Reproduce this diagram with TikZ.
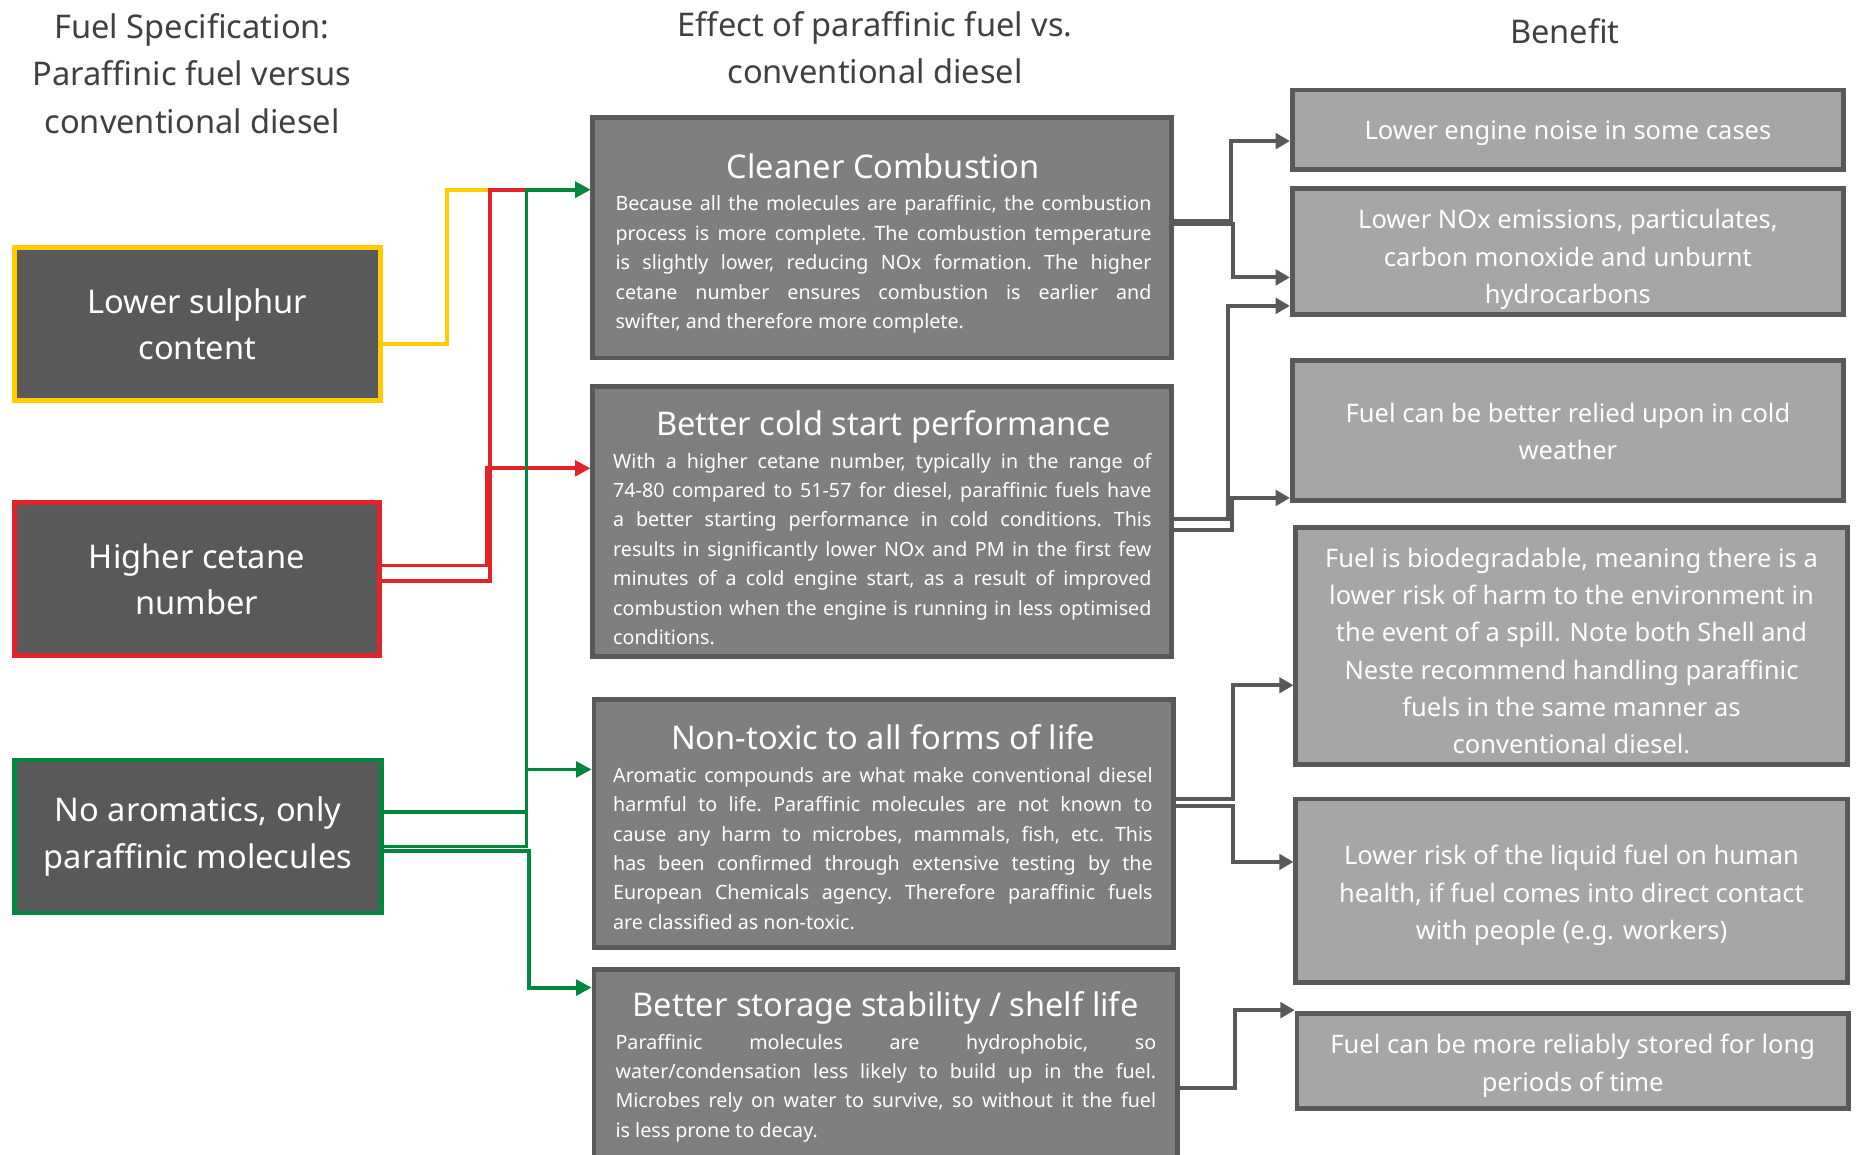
\documentclass[tikz,border=0pt]{standalone}
\usepackage{fontspec}
\setmainfont{Noto Sans}
\usetikzlibrary{arrows.meta}
\definecolor{ylw}{HTML}{FFCC00}
\definecolor{rd}{HTML}{E3232A}
\definecolor{grn}{HTML}{00873F}
\definecolor{dkfill}{HTML}{595959}
\definecolor{midfill}{HTML}{7F7F7F}
\definecolor{ltfill}{HTML}{A6A6A6}
\definecolor{bord}{HTML}{595959}
\definecolor{ttl}{HTML}{404040}
\begin{document}
\begin{tikzpicture}[x=1pt,y=-1pt,
  leftbox/.style={draw, line width=4pt, fill=dkfill, text=white, align=center, inner sep=0pt,
     font=\fontsize{27.5}{39}\selectfont},
  midbox/.style={draw=bord, line width=4pt, fill=midfill, inner sep=0pt},
  rightbox/.style={draw=bord, line width=4pt, fill=ltfill, text=white, align=center, inner sep=0pt,
     font=\fontsize{21.5}{31.5}\selectfont},
  heading/.style={text=white, inner sep=0pt, font=\fontsize{27.5}{33}\selectfont,
     text height=20.9pt, text depth=6.6pt},
  bodytext/.style={text=white, inner sep=0pt, align=justify, anchor=north west,
     font=\fontsize{16.6}{24.8}\selectfont,
     execute at begin node={\frenchspacing\tolerance=10000\hyphenpenalty=10000\emergencystretch=0pt}},
  titletext/.style={text=ttl, align=center, inner sep=0pt, font=\fontsize{27.5}{40}\selectfont},
  conn/.style={line width=3.2pt, -{Triangle[length=13pt,width=13pt]}},
  gconn/.style={draw=bord, line width=3.4pt, -{Triangle[length=12pt,width=13pt]}}
]
\useasboundingbox (0,0) rectangle (1568,974);
\fill[white] (0,0) rectangle (1568,974);

% titles
\node[titletext] (t1) at (162,62) {Fuel Specification:\\Paraffinic fuel versus\\conventional diesel};
\node[titletext] (t2) at (738,40) {Effect of paraffinic fuel vs.\\conventional diesel};
\node[titletext] (t3) at (1320,26) {Benefit};

% left boxes
\node[leftbox, draw=ylw, minimum width=309pt, minimum height=129pt] (L1) at (166.5,273.5) {Lower sulphur\\content};
\node[leftbox, draw=rd, minimum width=308pt, minimum height=129pt] (L2) at (166,488.5) {Higher cetane\\number};
\node[leftbox, draw=grn, minimum width=310pt, minimum height=129pt] (L3) at (167,705.5) {No aromatics, only\\paraffinic molecules};

% middle boxes
\node[midbox, minimum width=488pt, minimum height=203pt] (m1) at (744,200.5) {};
\node[midbox, minimum width=488pt, minimum height=228pt] (m2) at (744,440) {};
\node[midbox, minimum width=489pt, minimum height=209pt] (m3) at (745.5,694.5) {};
\node[midbox, minimum width=492pt, minimum height=170pt] (m4) at (747,903) {};

\node[heading] (h1) at (745,143) {Cleaner Combustion};
\node[heading] (h2) at (745,360) {Better cold start performance};
\node[heading] (h3) at (745,625) {Non-toxic to all forms of life};
\node[heading] (h4) at (747,850) {Better storage stability / shelf life};

\node[bodytext, text width=452pt] (b1) at (519,165) {Because all the molecules are paraffinic, the combustion\linebreak
process is more complete. The combustion temperature\linebreak
is slightly lower, reducing NOx formation. The higher\linebreak
cetane number ensures combustion is earlier and\linebreak
swifter, and therefore more complete.};
\node[bodytext, text width=454pt] (b2) at (517,382) {With a higher cetane number, typically in the range of\linebreak
74-80 compared to 51-57 for diesel, paraffinic fuels have\linebreak
a better starting performance in cold conditions. This\linebreak
results in significantly lower NOx and PM in the first few\linebreak
minutes of a cold engine start, as a result of improved\linebreak
combustion when the engine is running in less optimised\linebreak
conditions.};
\node[bodytext, text width=455pt] (b3) at (517,647) {Aromatic compounds are what make conventional diesel\linebreak
harmful to life. Paraffinic molecules are not known to\linebreak
cause any harm to microbes, mammals, fish, etc. This\linebreak
has been confirmed through extensive testing by the\linebreak
European Chemicals agency. Therefore paraffinic fuels\linebreak
are classified as non-toxic.};
\node[bodytext, text width=456pt] (b4) at (519,872) {Paraffinic molecules are hydrophobic, so\linebreak
water/condensation less likely to build up in the fuel.\linebreak
Microbes rely on water to survive, so without it the fuel\linebreak
is less prone to decay.};

% right boxes
\node[rightbox, minimum width=465pt, minimum height=67pt] (r1) at (1322.5,109.5) {\rule{0pt}{22.3pt}Lower engine noise in some cases};
\node[rightbox, minimum width=465pt, minimum height=106pt] (r2) at (1322.5,212) {\rule{0pt}{30.3pt}Lower NOx emissions, particulates,\\carbon monoxide and unburnt\\hydrocarbons};
\node[rightbox, minimum width=465pt, minimum height=118pt] (r3) at (1322.5,363) {\rule{0pt}{18.3pt}Fuel can be better relied upon in cold\\weather};
\node[rightbox, minimum width=465pt, minimum height=200pt] (r4) at (1325.5,545) {\rule{0pt}{24.3pt}Fuel is biodegradable, meaning there is a\\lower risk of harm to the environment in\\the event of a spill. Note both Shell and\\Neste recommend handling paraffinic\\fuels in the same manner as\\conventional diesel.};
\node[rightbox, minimum width=465pt, minimum height=155pt] (r5) at (1325.5,751.5) {\rule{0pt}{24.3pt}Lower risk of the liquid fuel on human\\health, if fuel comes into direct contact\\with people (e.g. workers)};
\node[rightbox, minimum width=465pt, minimum height=80pt] (r6) at (1326.5,895) {\rule{0pt}{24.3pt}Fuel can be more reliably stored for long\\periods of time};

% coloured connectors
\draw[conn, ylw] ([yshift=-16.5pt]L1.east) -- ++(54,0) |- ([yshift=40.5pt]m1.west);
\draw[conn, rd] ([yshift=-1.5pt]L2.east) -- ++(91,0) |- ([yshift=40.5pt]m1.west);
\draw[conn, rd] ([yshift=11.5pt]L2.east) -- ++(89,0) |- ([yshift=45pt]m2.west);
\draw[conn, grn] ([yshift=-8.5pt]L3.east) -- ++(120,0) |- ([yshift=40.5pt]m1.west);
\draw[conn, grn] ([yshift=20.5pt]L3.east) -- ++(120,0) |- ([yshift=45.5pt]m3.west);
\draw[conn, grn] ([yshift=-12pt]L3.east) -- ++(122,0) |- ([yshift=70pt]m4.west);

% grey connectors
\draw[gconn] ([yshift=14.5pt]m1.east) -- ++(48,0) |- ([yshift=-9.5pt]r1.west);
\draw[gconn] ([yshift=11.5pt]m1.east) -- ++(50,0) |- ([yshift=-22pt]r2.west);
\draw[gconn] ([yshift=2pt]m2.east) -- ++(46,0) |- ([yshift=-46pt]r2.west);
\draw[gconn] ([yshift=-7pt]m2.east) -- ++(49,0) |- ([yshift=-57pt]r3.west);
\draw[gconn] ([yshift=20.5pt]m3.east) -- ++(48,0) |- ([yshift=-33pt]r4.west);
\draw[gconn] ([yshift=14.5pt]m3.east) -- ++(48,0) |- ([yshift=24.5pt]r5.west);
\draw[gconn] ([yshift=-15pt]m4.east) -- ++(47,0) |- ([yshift=43pt]r6.west);
\end{tikzpicture}
\end{document}
